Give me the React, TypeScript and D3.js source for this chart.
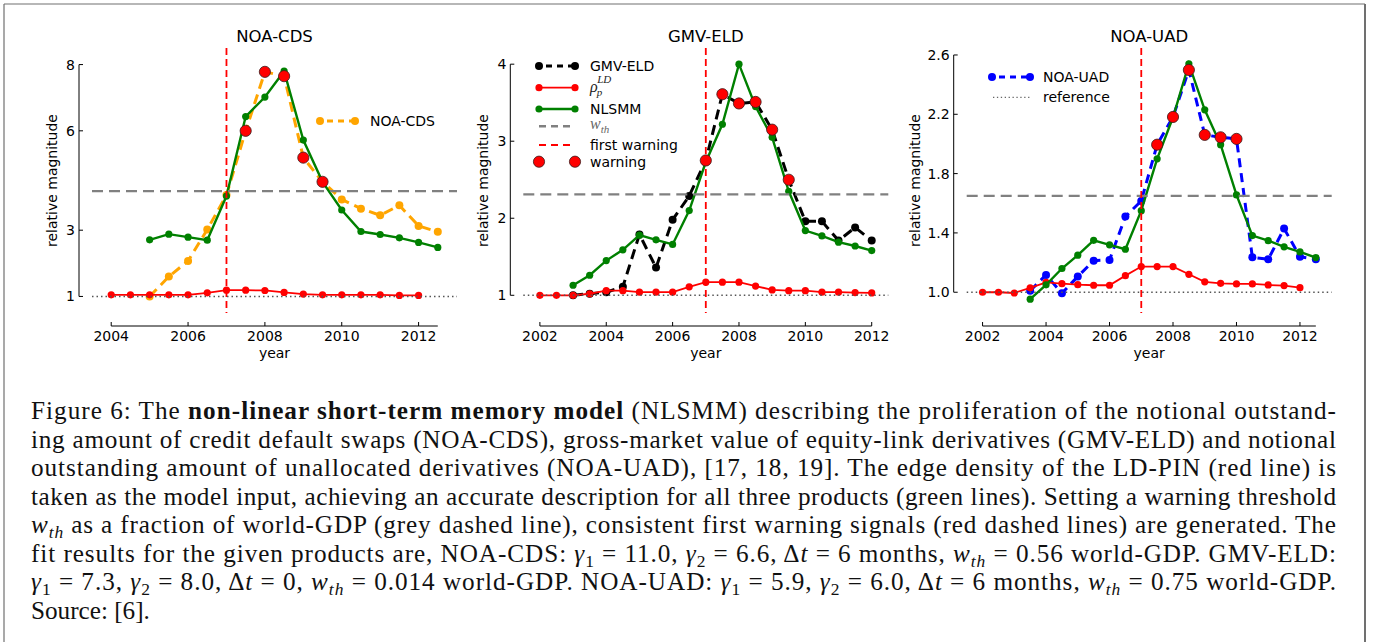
import * as d3 from "d3";

// ---------- NOA-CDS ----------
const cdsRhoYears = [2004, 2004.5, 2005, 2005.5, 2006, 2006.5, 2007, 2007.5, 2008, 2008.5, 2009, 2009.5, 2010, 2010.5, 2011, 2011.5, 2012];
const cdsRho = [1.05, 1.05, 1.05, 1.05, 1.05, 1.11, 1.19, 1.19, 1.18, 1.12, 1.07, 1.05, 1.05, 1.05, 1.05, 1.03, 1.03];
const cdsYears = [2005, 2005.5, 2006, 2006.5, 2007, 2007.5, 2008, 2008.5, 2009, 2009.5, 2010, 2010.5, 2011, 2011.5, 2012, 2012.5];
const cdsData = [1.0, 1.6, 2.07, 3.02, 4.06, 6.0, 7.78, 7.65, 5.19, 4.46, 3.93, 3.65, 3.45, 3.75, 3.13, 2.95];
const cdsModel = [2.71, 2.88, 2.79, 2.7, 4.03, 6.43, 7.02, 7.8, 5.72, 4.46, 3.61, 2.96, 2.87, 2.77, 2.63, 2.48];
const cdsWarnYears = [2007.5, 2008, 2008.5, 2009, 2009.5];
const cdsThreshold = 4.18;
const cdsFirstWarning = 2007;

// ---------- GMV-ELD ----------
const eldRhoYears = [2002, 2002.5, 2003, 2003.5, 2004, 2004.5, 2005, 2005.5, 2006, 2006.5, 2007, 2007.5, 2008, 2008.5, 2009, 2009.5, 2010, 2010.5, 2011, 2011.5, 2012];
const eldRho = [1.0, 1.0, 1.0, 1.02, 1.06, 1.06, 1.04, 1.04, 1.04, 1.11, 1.17, 1.17, 1.17, 1.12, 1.07, 1.06, 1.06, 1.04, 1.04, 1.035, 1.03];
const eldYears = [2003, 2003.5, 2004, 2004.5, 2005, 2005.5, 2006, 2006.5, 2007, 2007.5, 2008, 2008.5, 2009, 2009.5, 2010, 2010.5, 2011, 2011.5, 2012];
const eldData = [1.0, 1.02, 1.04, 1.11, 1.79, 1.36, 1.98, 2.29, 2.75, 3.61, 3.49, 3.51, 3.15, 2.5, 1.96, 1.96, 1.71, 1.88, 1.71];
const eldModel = [1.13, 1.26, 1.45, 1.59, 1.78, 1.72, 1.66, 2.1, 2.73, 3.22, 4.0, 3.45, 3.05, 2.35, 1.84, 1.77, 1.69, 1.64, 1.58];
const eldWarnYears = [2007, 2007.5, 2008, 2008.5, 2009, 2009.5];
const eldThreshold = 2.31;
const eldFirstWarning = 2007;

// ---------- NOA-UAD ----------
const uadRhoYears = [2002, 2002.5, 2003, 2003.5, 2004, 2004.5, 2005, 2005.5, 2006, 2006.5, 2007, 2007.5, 2008, 2008.5, 2009, 2009.5, 2010, 2010.5, 2011, 2011.5, 2012];
const uadRho = [1.0, 1.0, 0.995, 1.03, 1.067, 1.058, 1.051, 1.047, 1.047, 1.112, 1.173, 1.173, 1.173, 1.121, 1.07, 1.06, 1.056, 1.056, 1.049, 1.045, 1.031];
const uadYears = [2003.5, 2004, 2004.5, 2005, 2005.5, 2006, 2006.5, 2007, 2007.5, 2008, 2008.5, 2009, 2009.5, 2010, 2010.5, 2011, 2011.5, 2012, 2012.5];
const uadData = [1.01, 1.117, 0.993, 1.106, 1.213, 1.218, 1.51, 1.616, 1.995, 2.182, 2.499, 2.061, 2.045, 2.034, 1.236, 1.222, 1.429, 1.24, 1.222];
const uadModel = [0.953, 1.05, 1.16, 1.25, 1.35, 1.32, 1.29, 1.55, 1.9, 2.18, 2.54, 2.23, 1.995, 1.656, 1.382, 1.348, 1.306, 1.272, 1.234];
const uadWarnYears = [2007.5, 2008, 2008.5, 2009, 2009.5, 2010];
const uadThreshold = 1.65;
const uadFirstWarning = 2007;

// ticks
const cdsXTicks = [2004, 2006, 2008, 2010, 2012];
const cdsYTicks = [1, 3, 6, 8];
const eldXTicks = [2002, 2004, 2006, 2008, 2010, 2012];
const eldYTicks = [1, 2, 3, 4];
const uadXTicks = [2002, 2004, 2006, 2008, 2010, 2012];
const uadYTicks = [1.0, 1.4, 1.8, 2.2, 2.6];

const W = 1377;
const H = 642;
const TOP = 48;
const BOTTOM = 313;
const OFFSET = 13;
const FONT = "DejaVu Sans, sans-serif";

const RED = "#ff0000";
const GREEN = "#008000";

interface Panel {
  title: string;
  left: number;
  right: number;
  xDomain: [number, number];
  yDomain: [number, number];
  xTicks: number[];
  yTicks: number[];
  yFmt: string;
  yLabelGap: number;
  rhoYears: number[];
  rho: number[];
  years: number[];
  data: number[];
  model: number[];
  warnYears: number[];
  threshold: number;
  firstWarning: number;
  color: string;
  legend: "cds" | "eld" | "uad";
}

const panels: Panel[] = [
  {
    title: "NOA-CDS", left: 92, right: 457, xDomain: [2003.5, 2013], yDomain: [0.5, 8.5],
    xTicks: cdsXTicks, yTicks: cdsYTicks, yFmt: "d", yLabelGap: 22,
    rhoYears: cdsRhoYears, rho: cdsRho, years: cdsYears, data: cdsData, model: cdsModel,
    warnYears: cdsWarnYears, threshold: cdsThreshold, firstWarning: cdsFirstWarning,
    color: "#ffa500", legend: "cds",
  },
  {
    title: "GMV-ELD", left: 523.3, right: 888.3, xDomain: [2001.5, 2012.5], yDomain: [0.77, 4.21],
    xTicks: eldXTicks, yTicks: eldYTicks, yFmt: "d", yLabelGap: 22.5,
    rhoYears: eldRhoYears, rho: eldRho, years: eldYears, data: eldData, model: eldModel,
    warnYears: eldWarnYears, threshold: eldThreshold, firstWarning: eldFirstWarning,
    color: "#000000", legend: "eld",
  },
  {
    title: "NOA-UAD", left: 966.7, right: 1331.7, xDomain: [2001.5, 2013], yDomain: [0.86, 2.647],
    xTicks: uadXTicks, yTicks: uadYTicks, yFmt: ".1f", yLabelGap: 34,
    rhoYears: uadRhoYears, rho: uadRho, years: uadYears, data: uadData, model: uadModel,
    warnYears: uadWarnYears, threshold: uadThreshold, firstWarning: uadFirstWarning,
    color: "#0000ff", legend: "uad",
  },
];

function Dots({ xs, ys, r, fill, stroke }: { xs: number[]; ys: number[]; r: number; fill: string; stroke?: string }) {
  return (
    <g>
      {xs.map((cx, i) => (
        <circle key={i} cx={cx} cy={ys[i]} r={r} fill={fill}
          stroke={stroke || "none"} strokeWidth={stroke ? 0.8 : 0} />
      ))}
    </g>
  );
}

function ChartPanel({ p }: { p: Panel }) {
  const x = d3.scaleLinear().domain(p.xDomain).range([p.left, p.right]);
  const y = d3.scaleLinear().domain(p.yDomain).range([BOTTOM, TOP]);
  const path = (yrs: number[], vals: number[]) =>
    d3.line<number>().x((_, i) => x(yrs[i])).y((d) => y(d))(vals) || "";
  const fmt = d3.format(p.yFmt);

  const spineX = p.left - OFFSET;
  const spineY = BOTTOM + OFFSET;
  const yT0 = d3.min(p.yTicks) as number;
  const yT1 = d3.max(p.yTicks) as number;
  const xT0 = d3.min(p.xTicks) as number;
  const xEnd = d3.max(p.years) as number;
  const cx = (p.left + p.right) / 2;

  const warnVals = p.warnYears.map((yr) => p.data[p.years.indexOf(yr)]);
  const dash = p.legend === "uad" ? "9,6" : "10,6";

  return (
    <g>
      {/* data */}
      <path d={path(p.years, p.data)} fill="none" stroke={p.color} strokeWidth={3} strokeDasharray={dash} />
      <Dots xs={p.years.map(x)} ys={p.data.map(y)} r={4} fill={p.color} />
      {/* LD-PIN edge density */}
      <path d={path(p.rhoYears, p.rho)} fill="none" stroke={RED} strokeWidth={1.8} />
      <Dots xs={p.rhoYears.map(x)} ys={p.rho.map(y)} r={3.6} fill={RED} />
      {/* NLSMM */}
      <path d={path(p.years, p.model)} fill="none" stroke={GREEN} strokeWidth={2.4} />
      <Dots xs={p.years.map(x)} ys={p.model.map(y)} r={3.6} fill={GREEN} />
      {/* threshold */}
      <line x1={p.left} x2={p.right} y1={y(p.threshold)} y2={y(p.threshold)}
        stroke="#808080" strokeWidth={2.4} strokeDasharray="11,6" />
      {/* first warning */}
      <line x1={x(p.firstWarning)} x2={x(p.firstWarning)} y1={TOP} y2={BOTTOM}
        stroke={RED} strokeWidth={1.8} strokeDasharray="7,4" />
      {/* reference */}
      <line x1={p.left} x2={p.right} y1={y(1)} y2={y(1)}
        stroke="#555" strokeWidth={1.5} strokeDasharray="1.5,3" />
      {/* warnings */}
      <Dots xs={p.warnYears.map(x)} ys={warnVals.map(y)} r={5.6} fill={RED} stroke="#3a1a1a" />

      {/* y axis */}
      <line x1={spineX} x2={spineX} y1={y(yT0)} y2={y(yT1)} stroke="#000" strokeWidth={1} />
      {p.yTicks.map((t) => (
        <g key={t}>
          <line x1={spineX} x2={spineX + 4} y1={y(t)} y2={y(t)} stroke="#000" />
          <text x={spineX - 4} y={y(t)} dy="0.36em" textAnchor="end" fontSize={14} fontFamily={FONT}>
            {fmt(t)}
          </text>
        </g>
      ))}
      {/* x axis */}
      <line x1={x(xT0)} x2={x(xEnd)} y1={spineY} y2={spineY} stroke="#000" strokeWidth={1} />
      {p.xTicks.map((t) => (
        <g key={t}>
          <line x1={x(t)} x2={x(t)} y1={spineY} y2={spineY - 4} stroke="#000" />
          <text x={x(t)} y={spineY + 15} textAnchor="middle" fontSize={14} fontFamily={FONT}>
            {t}
          </text>
        </g>
      ))}
      <text x={cx} y={358} textAnchor="middle" fontSize={14} fontFamily={FONT}>year</text>
      <text transform={`translate(${spineX - p.yLabelGap},${(TOP + BOTTOM) / 2}) rotate(-90)`}
        textAnchor="middle" fontSize={14} fontFamily={FONT}>
        relative magnitude
      </text>
      <text x={cx} y={42} textAnchor="middle" fontSize={16.5} fontFamily={FONT}>{p.title}</text>

      {p.legend === "cds" && (
        <g>
          <line x1={320} x2={355} y1={121} y2={121} stroke={p.color} strokeWidth={3} strokeDasharray="6,5" strokeDashoffset={-7} />
          <Dots xs={[320, 355]} ys={[121, 121]} r={4} fill={p.color} />
          <text x={370} y={126} fontSize={14} fontFamily={FONT}>NOA-CDS</text>
        </g>
      )}
      {p.legend === "eld" && <EldLegend />}
      {p.legend === "uad" && (
        <g>
          <line x1={992} x2={1030} y1={77} y2={77} stroke={p.color} strokeWidth={3} strokeDasharray="6,5" strokeDashoffset={-7} />
          <Dots xs={[992, 1030]} ys={[77, 77]} r={4} fill={p.color} />
          <text x={1043} y={82} fontSize={14} fontFamily={FONT}>NOA-UAD</text>
          <line x1={993} x2={1030} y1={97.3} y2={97.3} stroke="#666" strokeWidth={1.3} strokeDasharray="1.3,2.6" />
          <text x={1043} y={102.3} fontSize={14} fontFamily={FONT}>reference</text>
        </g>
      )}
    </g>
  );
}

function EldLegend() {
  const x0 = 539;
  const x1 = 575;
  const tx = 590;
  const rows = [66, 87.7, 109, 126.3, 145, 161.7];
  const math = "Liberation Serif, DejaVu Serif, serif";
  return (
    <g fontFamily={FONT} fontSize={14}>
      <line x1={x0} x2={x1} y1={rows[0]} y2={rows[0]} stroke="#000" strokeWidth={3} strokeDasharray="6,5" strokeDashoffset={-7} />
      <Dots xs={[x0, x1]} ys={[rows[0], rows[0]]} r={4} fill="#000" />
      <text x={tx} y={rows[0] + 5}>GMV-ELD</text>

      <line x1={x0} x2={x1} y1={rows[1]} y2={rows[1]} stroke={RED} strokeWidth={1.8} />
      <Dots xs={[x0, x1]} ys={[rows[1], rows[1]]} r={3.6} fill={RED} />
      <text x={tx} y={rows[1] + 4} fontFamily={math} fontStyle="italic" fontSize={16} fill="#222">
        ρ<tspan dx={-1} dy={4} fontSize={11}>p</tspan>
        <tspan dx={-5} dy={-13} fontSize={11}>LD</tspan>
      </text>

      <line x1={x0} x2={x1} y1={rows[2]} y2={rows[2]} stroke={GREEN} strokeWidth={2.4} />
      <Dots xs={[x0, x1]} ys={[rows[2], rows[2]]} r={3.6} fill={GREEN} />
      <text x={tx} y={rows[2] + 5}>NLSMM</text>

      <line x1={x0} x2={x1} y1={rows[3]} y2={rows[3]} stroke="#808080" strokeWidth={2.4} strokeDasharray="7,5" />
      <text x={tx} y={rows[3] + 3} fontFamily={math} fontStyle="italic" fontSize={16} fill="#666">
        w<tspan dy={4} fontSize={11}>th</tspan>
      </text>

      <line x1={x0} x2={x1} y1={rows[4]} y2={rows[4]} stroke={RED} strokeWidth={1.8} strokeDasharray="7,5" />
      <text x={tx} y={rows[4] + 5}>first warning</text>

      <Dots xs={[x0, x1]} ys={[rows[5], rows[5]]} r={5.6} fill={RED} stroke="#3a1a1a" />
      <text x={tx} y={rows[5] + 5}>warning</text>
    </g>
  );
}

// caption: n normal, b bold, i italic, s subscript, si italic subscript
type Seg = [string, "n" | "b" | "i" | "s" | "si"];
const captionLines: Seg[][] = [
  [["Figure 6: The ", "n"], ["non-linear short-term memory model", "b"], [" (NLSMM) describing the proliferation of the notional outstand-", "n"]],
  [["ing amount of credit default swaps (NOA-CDS), gross-market value of equity-link derivatives (GMV-ELD) and notional", "n"]],
  [["outstanding amount of unallocated derivatives (NOA-UAD), [17, 18, 19].  The edge density of the LD-PIN (red line) is", "n"]],
  [["taken as the model input, achieving an accurate description for all three products (green lines). Setting a warning threshold", "n"]],
  [["w", "i"], ["th", "si"], [" as a fraction of world-GDP (grey dashed line), consistent first warning signals (red dashed lines) are generated.  The", "n"]],
  [["fit results for the given products are, NOA-CDS: ", "n"], ["γ", "i"], ["1", "s"], [" = 11.0, ", "n"], ["γ", "i"], ["2", "s"],
    [" = 6.6, Δ", "n"], ["t", "i"], [" = 6 months, ", "n"], ["w", "i"], ["th", "si"], [" = 0.56 world-GDP. GMV-ELD:", "n"]],
  [["γ", "i"], ["1", "s"], [" = 7.3, ", "n"], ["γ", "i"], ["2", "s"], [" = 8.0, Δ", "n"], ["t", "i"], [" = 0, ", "n"], ["w", "i"], ["th", "si"],
    [" = 0.014 world-GDP. NOA-UAD: ", "n"], ["γ", "i"], ["1", "s"], [" = 5.9, ", "n"], ["γ", "i"], ["2", "s"], [" = 6.0, Δ", "n"],
    ["t", "i"], [" = 6 months, ", "n"], ["w", "i"], ["th", "si"], [" = 0.75 world-GDP.", "n"]],
  [["Source: [6].", "n"]],
];

function Caption() {
  const x0 = 31;
  const width = 1305;
  const base = 419;
  const lead = 28.55;
  return (
    <g fontFamily="Liberation Serif, Times New Roman, serif" fontSize={25.2} fill="#111">
      {captionLines.map((segs, li) => {
        let shift = 0;
        const last = li === captionLines.length - 1;
        return (
          <text key={li} x={x0} y={base + li * lead}
            textLength={last ? undefined : width} lengthAdjust="spacing">
            {segs.map(([t, k], si) => {
              const sub = k === "s" || k === "si";
              const dy = sub ? 5 - shift : -shift;
              shift = sub ? 5 : 0;
              return (
                <tspan key={si} dy={dy || undefined}
                  fontWeight={k === "b" ? "bold" : undefined}
                  fontStyle={k === "i" || k === "si" ? "italic" : undefined}
                  fontSize={sub ? 17.5 : undefined}>
                  {t}
                </tspan>
              );
            })}
          </text>
        );
      })}
    </g>
  );
}

export default function App() {
  return (
    <svg width={W} height={H} viewBox={`0 0 ${W} ${H}`}
      style={{ position: "absolute", left: 0, top: 0, display: "block", background: "#fff" }}>
      <rect x={0} y={0} width={W} height={H} fill="#fff" />
      <line x1={4} x2={4} y1={4} y2={H} stroke="#707070" strokeWidth={1.2} />
      <line x1={4} x2={1365} y1={4} y2={4} stroke="#707070" strokeWidth={1.2} />
      <line x1={1365} x2={1365} y1={4} y2={H} stroke="#707070" strokeWidth={2} />
      {panels.map((p) => <ChartPanel key={p.title} p={p} />)}
      <Caption />
    </svg>
  );
}
